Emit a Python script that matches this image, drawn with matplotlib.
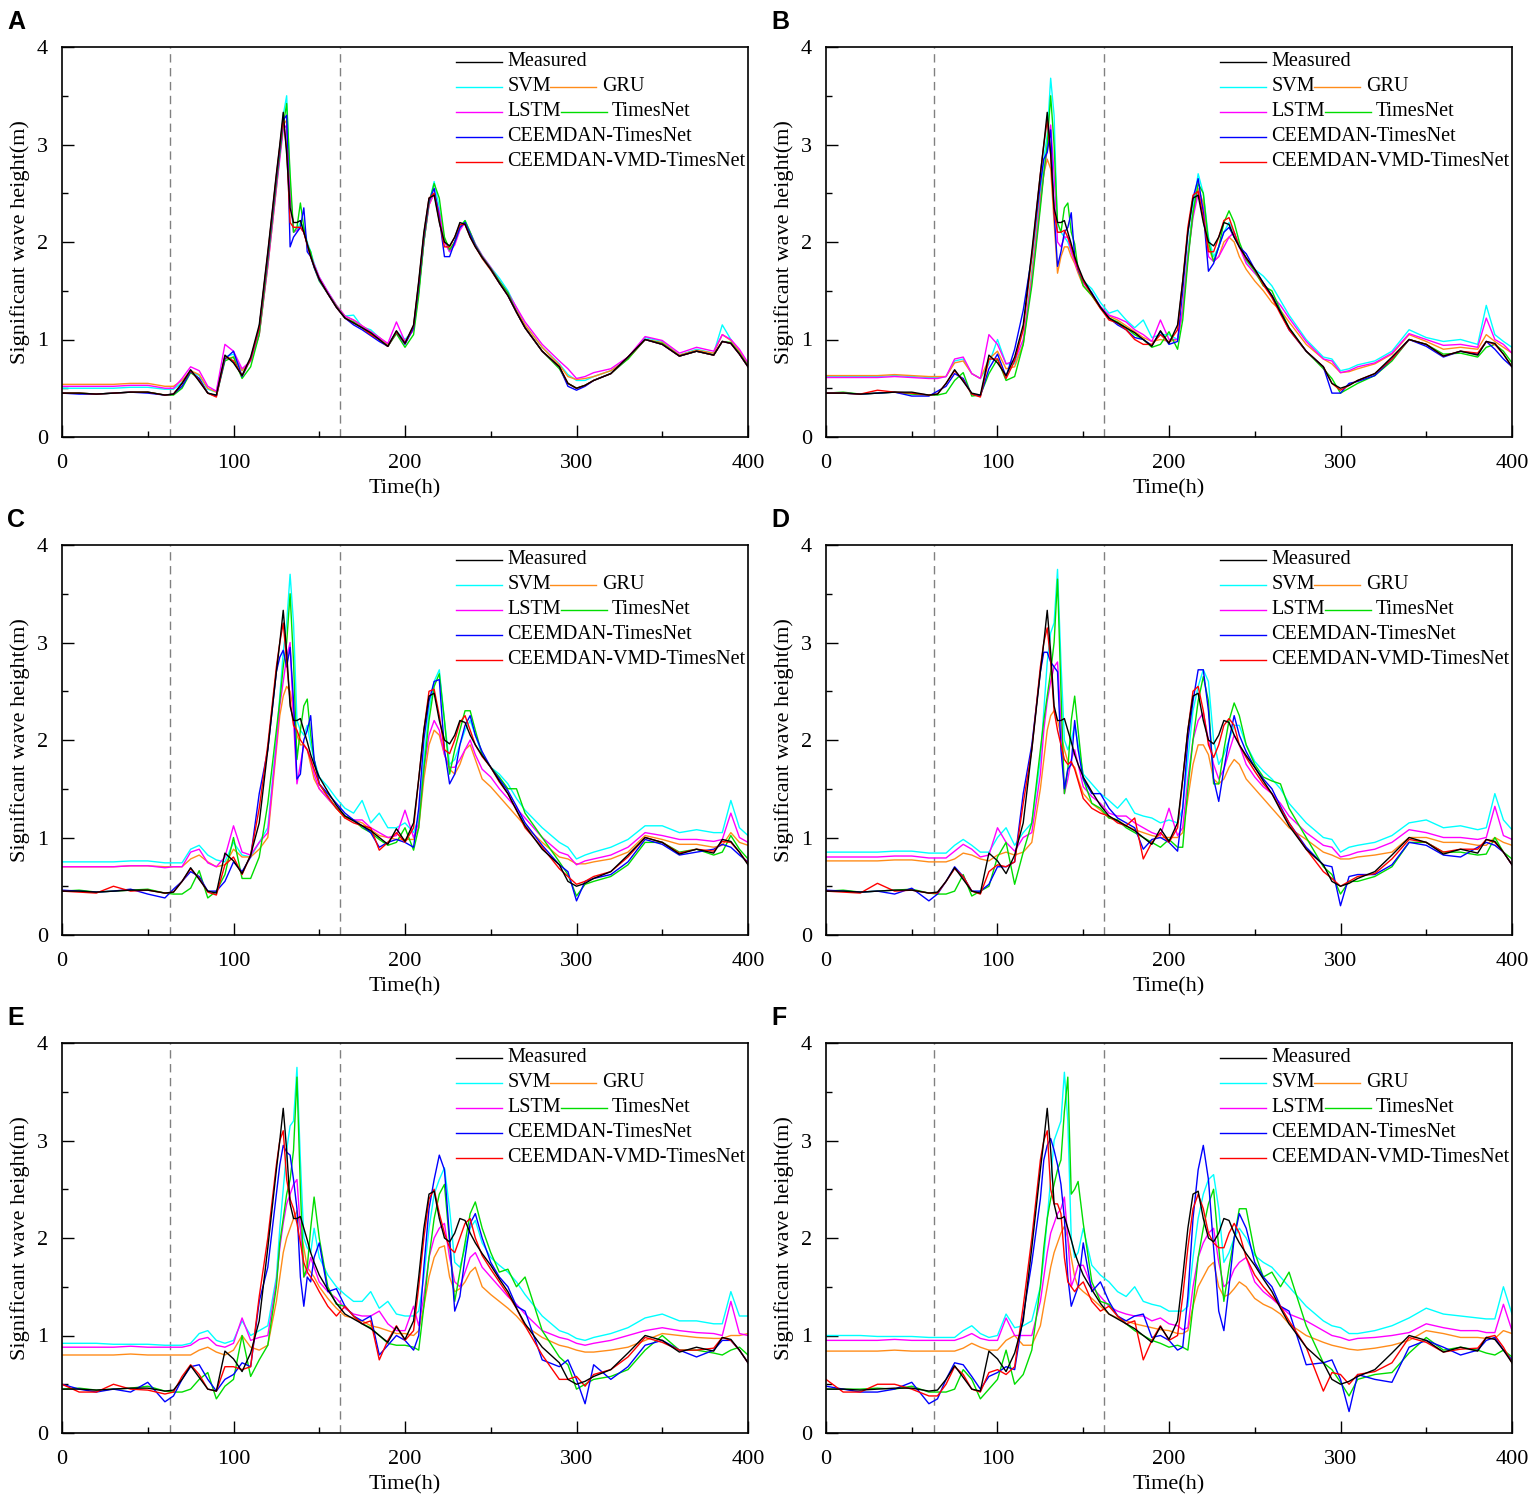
import matplotlib
matplotlib.use("Agg")
import matplotlib.pyplot as plt
from matplotlib.ticker import MultipleLocator

# sample hours (shared by every series)
hours = [0, 10, 20, 30, 40, 50, 60,
         65, 70, 75, 80, 85, 90, 95, 100, 105, 110, 115, 120, 125,
         127, 129, 131, 133, 135, 137, 139, 141, 143, 145, 147,
         150, 155, 160, 165, 170, 175, 180, 185, 190, 195, 200, 205,
         208, 211, 214, 217, 220, 223, 226, 229, 232, 235, 238, 241,
         245, 250, 255, 260, 265, 270,
         280, 290, 295, 300, 305, 310, 320, 330, 340, 350, 360, 370, 380,
         385, 390, 395, 400]

measured = [0.45, 0.45, 0.44, 0.45, 0.46, 0.46, 0.43,
            0.44, 0.55, 0.69, 0.57, 0.45, 0.43, 0.84, 0.76, 0.63, 0.82, 1.15, 1.90, 2.70,
            3.00, 3.33, 2.90, 2.35, 2.20, 2.20, 2.22, 2.10, 1.98, 1.85, 1.75,
            1.62, 1.47, 1.33, 1.22, 1.17, 1.12, 1.07, 1.00, 0.93, 1.09, 0.96, 1.15,
            1.60, 2.10, 2.45, 2.48, 2.20, 2.00, 1.96, 2.05, 2.20, 2.18, 2.05, 1.95,
            1.84, 1.72, 1.58, 1.45, 1.28, 1.12,
            0.88, 0.72, 0.55, 0.50, 0.53, 0.58, 0.65, 0.82, 1.00, 0.95, 0.83, 0.88, 0.84,
            0.98, 0.96, 0.85, 0.72]

# ---- panel A ----
svm_a = [0.50, 0.50, 0.50, 0.50, 0.51, 0.51, 0.49,
         0.49, 0.56, 0.67, 0.63, 0.49, 0.46, 0.82, 0.85, 0.68, 0.78, 1.10, 1.80, 2.60,
         2.95, 3.30, 3.50, 2.60, 2.10, 2.12, 2.20, 2.15, 2.00, 1.90, 1.78,
         1.64, 1.49, 1.35, 1.24, 1.25, 1.13, 1.10, 1.02, 0.95, 1.08, 1.00, 1.10,
         1.50, 2.00, 2.40, 2.62, 2.35, 2.02, 1.90, 2.00, 2.15, 2.22, 2.10, 1.98,
         1.86, 1.74, 1.63, 1.50, 1.32, 1.15,
         0.92, 0.75, 0.64, 0.58, 0.58, 0.62, 0.68, 0.80, 1.02, 0.98, 0.84, 0.90, 0.86,
         1.15, 1.00, 0.88, 0.75]
gru_a = [0.54, 0.54, 0.54, 0.54, 0.55, 0.55, 0.52,
         0.52, 0.58, 0.68, 0.64, 0.50, 0.46, 0.80, 0.82, 0.68, 0.78, 1.05, 1.75, 2.55,
         2.90, 3.20, 3.25, 2.50, 2.15, 2.15, 2.15, 2.10, 1.98, 1.86, 1.76,
         1.63, 1.48, 1.35, 1.24, 1.20, 1.14, 1.08, 1.02, 0.95, 1.06, 0.98, 1.10,
         1.50, 2.00, 2.38, 2.50, 2.30, 2.02, 1.92, 2.00, 2.15, 2.20, 2.08, 1.96,
         1.83, 1.71, 1.58, 1.46, 1.30, 1.15,
         0.92, 0.74, 0.62, 0.59, 0.60, 0.62, 0.68, 0.80, 1.00, 0.97, 0.84, 0.89, 0.86,
         1.05, 0.99, 0.88, 0.75]
lstm_a = [0.52, 0.52, 0.52, 0.52, 0.53, 0.53, 0.50,
          0.50, 0.60, 0.72, 0.68, 0.52, 0.47, 0.95, 0.88, 0.70, 0.78, 1.05, 1.75, 2.55,
          2.85, 3.15, 3.20, 2.50, 2.10, 2.12, 2.15, 2.10, 1.98, 1.87, 1.77,
          1.64, 1.49, 1.35, 1.24, 1.20, 1.14, 1.08, 1.02, 0.96, 1.18, 0.98, 1.10,
          1.50, 2.00, 2.38, 2.50, 2.30, 2.00, 1.90, 1.97, 2.12, 2.20, 2.10, 1.98,
          1.86, 1.74, 1.60, 1.48, 1.33, 1.18,
          0.95, 0.78, 0.70, 0.60, 0.62, 0.66, 0.70, 0.82, 1.03, 0.99, 0.86, 0.92, 0.88,
          1.05, 1.00, 0.90, 0.76]
tnet_a = [0.45, 0.45, 0.44, 0.45, 0.46, 0.46, 0.43,
          0.43, 0.50, 0.66, 0.60, 0.45, 0.42, 0.78, 0.82, 0.60, 0.72, 1.05, 1.80, 2.60,
          2.90, 3.20, 3.42, 2.70, 2.10, 2.15, 2.40, 2.15, 1.97, 1.90, 1.74,
          1.60, 1.47, 1.34, 1.22, 1.18, 1.12, 1.06, 1.00, 0.93, 1.06, 0.92, 1.05,
          1.45, 2.00, 2.40, 2.60, 2.45, 2.05, 1.92, 2.00, 2.15, 2.22, 2.10, 1.97,
          1.85, 1.73, 1.60, 1.48, 1.28, 1.12,
          0.88, 0.70, 0.55, 0.50, 0.53, 0.58, 0.65, 0.80, 1.00, 0.96, 0.83, 0.88, 0.84,
          0.98, 0.97, 0.86, 0.73]
cee_a = [0.45, 0.44, 0.44, 0.45, 0.46, 0.45, 0.43,
         0.44, 0.52, 0.67, 0.60, 0.45, 0.42, 0.80, 0.88, 0.62, 0.80, 1.12, 1.85, 2.65,
         2.95, 3.25, 3.30, 1.95, 2.05, 2.10, 2.15, 2.35, 1.90, 1.85, 1.74,
         1.61, 1.47, 1.33, 1.22, 1.15, 1.10, 1.04, 0.98, 0.93, 1.08, 0.95, 1.12,
         1.55, 2.05, 2.42, 2.55, 2.25, 1.85, 1.85, 2.00, 2.15, 2.20, 2.08, 1.96,
         1.84, 1.72, 1.58, 1.45, 1.28, 1.12,
         0.88, 0.72, 0.52, 0.48, 0.52, 0.58, 0.65, 0.82, 1.00, 0.95, 0.83, 0.88, 0.84,
         0.98, 0.96, 0.85, 0.72]
vmd_a = [0.45, 0.45, 0.44, 0.45, 0.46, 0.46, 0.43,
         0.44, 0.55, 0.68, 0.58, 0.45, 0.41, 0.83, 0.78, 0.63, 0.80, 1.12, 1.88, 2.68,
         2.98, 3.27, 2.95, 2.20, 2.15, 2.15, 2.15, 2.10, 1.97, 1.85, 1.75,
         1.62, 1.47, 1.33, 1.22, 1.17, 1.12, 1.05, 1.00, 0.93, 1.08, 0.96, 1.14,
         1.58, 2.08, 2.45, 2.50, 2.22, 1.95, 1.95, 2.05, 2.18, 2.18, 2.05, 1.95,
         1.84, 1.72, 1.58, 1.45, 1.28, 1.12,
         0.88, 0.72, 0.55, 0.50, 0.53, 0.58, 0.65, 0.82, 1.00, 0.95, 0.83, 0.88, 0.84,
         0.98, 0.96, 0.85, 0.72]

# ---- panel B ----
svm_b = [0.62, 0.62, 0.62, 0.62, 0.63, 0.62, 0.61,
         0.61, 0.62, 0.78, 0.80, 0.65, 0.60, 0.75, 1.00, 0.75, 0.75, 0.95, 1.70, 2.50,
         2.85, 3.10, 3.68, 3.30, 2.10, 2.10, 2.05, 2.00, 1.90, 1.80, 1.70,
         1.60, 1.52, 1.38, 1.27, 1.30, 1.20, 1.12, 1.20, 1.02, 1.05, 1.05, 1.00,
         1.30, 1.90, 2.35, 2.70, 2.50, 2.05, 1.85, 1.95, 2.10, 2.20, 2.10, 1.97,
         1.80, 1.72, 1.65, 1.55, 1.40, 1.25,
         1.00, 0.82, 0.80, 0.68, 0.70, 0.74, 0.78, 0.88, 1.10, 1.02, 0.98, 1.00, 0.95,
         1.35, 1.05, 0.98, 0.92]
gru_b = [0.63, 0.63, 0.63, 0.63, 0.64, 0.63, 0.62,
         0.62, 0.62, 0.76, 0.78, 0.65, 0.60, 0.80, 0.88, 0.70, 0.72, 0.95, 1.65, 2.45,
         2.70, 2.85, 2.75, 2.20, 1.68, 1.85, 1.95, 1.95, 1.85, 1.78, 1.68,
         1.55, 1.45, 1.32, 1.24, 1.20, 1.14, 1.08, 1.02, 0.98, 1.00, 0.98, 1.00,
         1.30, 1.85, 2.30, 2.55, 2.40, 1.95, 1.80, 1.85, 2.00, 2.05, 2.00, 1.85,
         1.72, 1.60, 1.50, 1.38, 1.30, 1.18,
         0.95, 0.80, 0.75, 0.66, 0.67, 0.70, 0.75, 0.85, 1.05, 0.98, 0.90, 0.92, 0.90,
         1.05, 0.98, 0.92, 0.86]
lstm_b = [0.61, 0.61, 0.61, 0.61, 0.62, 0.61, 0.60,
          0.60, 0.62, 0.80, 0.82, 0.65, 0.60, 1.05, 0.95, 0.75, 0.78, 1.00, 1.60, 2.40,
          2.70, 2.95, 3.20, 2.70, 2.00, 1.95, 2.05, 2.05, 1.90, 1.80, 1.70,
          1.58, 1.47, 1.34, 1.25, 1.22, 1.18, 1.10, 1.05, 0.98, 1.20, 1.00, 1.00,
          1.30, 1.85, 2.25, 2.50, 2.35, 1.85, 1.80, 1.85, 1.95, 2.05, 2.10, 1.95,
          1.78, 1.68, 1.58, 1.45, 1.35, 1.22,
          0.98, 0.80, 0.78, 0.66, 0.68, 0.72, 0.76, 0.86, 1.06, 1.00, 0.94, 0.95, 0.92,
          1.22, 1.00, 0.95, 0.86]
tnet_b = [0.45, 0.46, 0.44, 0.45, 0.46, 0.44, 0.43,
          0.43, 0.45, 0.58, 0.66, 0.42, 0.43, 0.65, 0.80, 0.58, 0.62, 0.95, 1.55, 2.35,
          2.70, 3.00, 3.50, 3.00, 2.20, 2.10, 2.35, 2.40, 2.10, 1.98, 1.72,
          1.55, 1.45, 1.33, 1.22, 1.18, 1.12, 1.05, 1.00, 0.92, 0.95, 1.08, 0.90,
          1.20, 1.80, 2.30, 2.60, 2.50, 2.00, 1.80, 1.95, 2.20, 2.32, 2.20, 2.00,
          1.82, 1.70, 1.55, 1.50, 1.30, 1.12,
          0.88, 0.70, 0.60, 0.45, 0.50, 0.55, 0.63, 0.78, 1.00, 0.95, 0.85, 0.86, 0.82,
          0.92, 0.95, 0.88, 0.76]
cee_b = [0.45, 0.45, 0.44, 0.45, 0.46, 0.42, 0.42,
         0.47, 0.52, 0.65, 0.60, 0.44, 0.42, 0.70, 0.85, 0.62, 0.90, 1.30, 1.85, 2.60,
         2.85, 2.92, 3.15, 2.30, 1.75, 1.90, 2.10, 2.15, 2.30, 1.85, 1.72,
         1.60, 1.48, 1.33, 1.22, 1.15, 1.10, 1.02, 1.00, 0.94, 1.08, 0.95, 0.98,
         1.50, 2.10, 2.45, 2.65, 2.30, 1.70, 1.78, 1.95, 2.10, 2.15, 2.05, 1.95,
         1.88, 1.72, 1.58, 1.45, 1.28, 1.10,
         0.88, 0.72, 0.45, 0.45, 0.55, 0.57, 0.63, 0.80, 1.00, 0.93, 0.82, 0.88, 0.85,
         0.98, 0.90, 0.80, 0.72]
vmd_b = [0.45, 0.45, 0.44, 0.48, 0.46, 0.45, 0.43,
         0.44, 0.55, 0.68, 0.58, 0.44, 0.41, 0.80, 0.80, 0.60, 0.78, 1.10, 1.85, 2.70,
         3.00, 3.25, 2.90, 2.30, 2.10, 2.10, 2.12, 2.05, 1.95, 1.83, 1.73,
         1.60, 1.46, 1.32, 1.20, 1.17, 1.10, 1.00, 0.95, 0.95, 1.05, 0.97, 1.10,
         1.60, 2.15, 2.48, 2.52, 2.25, 1.90, 1.90, 2.05, 2.22, 2.25, 2.10, 1.95,
         1.83, 1.72, 1.56, 1.43, 1.26, 1.10,
         0.88, 0.72, 0.55, 0.48, 0.53, 0.58, 0.65, 0.80, 1.00, 0.95, 0.83, 0.88, 0.86,
         0.98, 0.95, 0.85, 0.72]

# ---- panel C ----
svm_c = [0.75, 0.75, 0.75, 0.75, 0.76, 0.76, 0.74,
         0.74, 0.74, 0.88, 0.92, 0.82, 0.77, 0.75, 0.95, 0.82, 0.80, 0.95, 1.10, 2.00,
         2.45, 2.90, 3.20, 3.70, 3.20, 2.20, 2.10, 2.05, 2.15, 1.95, 1.80,
         1.62, 1.52, 1.40, 1.30, 1.25, 1.38, 1.15, 1.25, 1.10, 1.10, 1.15, 1.05,
         1.20, 1.80, 2.30, 2.60, 2.72, 2.20, 1.75, 1.80, 1.95, 2.10, 2.20, 2.05,
         1.85, 1.72, 1.65, 1.55, 1.40, 1.28,
         1.10, 0.95, 0.90, 0.78, 0.82, 0.85, 0.90, 0.98, 1.12, 1.12, 1.05, 1.08, 1.05,
         1.05, 1.38, 1.10, 1.02]
gru_c = [0.70, 0.70, 0.70, 0.70, 0.71, 0.71, 0.70,
         0.70, 0.70, 0.78, 0.82, 0.75, 0.70, 0.72, 0.88, 0.80, 0.80, 0.88, 1.00, 1.90,
         2.25, 2.45, 2.55, 2.50, 2.30, 2.05, 1.95, 1.95, 1.90, 1.75, 1.60,
         1.50, 1.40, 1.30, 1.20, 1.18, 1.15, 1.08, 1.02, 1.00, 0.98, 0.98, 0.98,
         1.10, 1.60, 1.95, 2.10, 2.05, 1.85, 1.70, 1.65, 1.75, 1.90, 1.95, 1.80,
         1.60, 1.52, 1.42, 1.32, 1.22, 1.12,
         0.95, 0.80, 0.78, 0.73, 0.73, 0.75, 0.78, 0.85, 1.02, 0.98, 0.93, 0.93, 0.90,
         0.92, 1.05, 0.95, 0.92]
lstm_c = [0.70, 0.70, 0.70, 0.70, 0.71, 0.71, 0.69,
          0.70, 0.70, 0.85, 0.88, 0.74, 0.70, 0.80, 1.12, 0.85, 0.82, 0.95, 1.05, 1.95,
          2.35, 2.60, 2.85, 3.00, 2.20, 1.55, 1.75, 1.95, 1.90, 1.80, 1.65,
          1.50, 1.40, 1.30, 1.22, 1.18, 1.18, 1.10, 1.05, 1.00, 1.02, 1.28, 1.00,
          1.15, 1.70, 2.05, 2.20, 2.10, 1.85, 1.72, 1.72, 1.80, 1.90, 2.00, 1.85,
          1.70, 1.62, 1.50, 1.40, 1.30, 1.20,
          1.00, 0.85, 0.82, 0.72, 0.76, 0.78, 0.82, 0.90, 1.05, 1.02, 0.98, 0.98, 0.96,
          0.98, 1.25, 1.00, 0.95]
tnet_c = [0.45, 0.46, 0.44, 0.45, 0.46, 0.47, 0.43,
          0.42, 0.42, 0.48, 0.66, 0.38, 0.45, 0.62, 1.00, 0.58, 0.58, 0.80, 1.35, 2.10,
          2.40, 2.75, 3.00, 3.50, 2.80, 1.80, 2.10, 2.35, 2.42, 2.05, 1.80,
          1.55, 1.42, 1.30, 1.22, 1.18, 1.10, 1.05, 0.98, 0.92, 0.95, 1.10, 0.87,
          1.10, 1.70, 2.20, 2.55, 2.68, 2.20, 1.65, 1.90, 2.10, 2.30, 2.30, 2.10,
          1.85, 1.72, 1.62, 1.50, 1.50, 1.25,
          1.00, 0.75, 0.62, 0.40, 0.52, 0.55, 0.60, 0.72, 0.95, 0.95, 0.85, 0.88, 0.82,
          0.85, 1.02, 0.88, 0.78]
cee_c = [0.46, 0.45, 0.44, 0.45, 0.47, 0.42, 0.38,
         0.47, 0.55, 0.65, 0.60, 0.45, 0.45, 0.55, 0.75, 0.65, 0.80, 1.45, 1.90, 2.70,
         2.85, 2.92, 2.75, 2.95, 2.40, 1.60, 1.65, 2.00, 2.10, 2.25, 1.80,
         1.55, 1.45, 1.35, 1.25, 1.18, 1.12, 1.05, 0.90, 0.95, 0.98, 0.95, 0.90,
         1.30, 2.00, 2.40, 2.60, 2.62, 1.90, 1.55, 1.65, 1.95, 2.15, 2.25, 2.05,
         1.88, 1.72, 1.60, 1.48, 1.32, 1.15,
         0.92, 0.72, 0.65, 0.35, 0.55, 0.58, 0.62, 0.75, 0.98, 0.93, 0.82, 0.85, 0.88,
         0.93, 0.90, 0.82, 0.75]
vmd_c = [0.45, 0.44, 0.43, 0.50, 0.45, 0.46, 0.43,
         0.44, 0.55, 0.68, 0.58, 0.44, 0.41, 0.72, 0.80, 0.62, 0.82, 1.30, 1.95, 2.75,
         3.00, 3.20, 2.80, 2.40, 2.15, 2.10, 2.00, 1.95, 1.90, 1.80, 1.70,
         1.55, 1.42, 1.30, 1.20, 1.15, 1.12, 1.10, 0.87, 0.95, 1.05, 0.95, 1.10,
         1.60, 2.10, 2.50, 2.52, 2.25, 1.90, 1.86, 2.00, 2.18, 2.25, 2.10, 1.95,
         1.83, 1.72, 1.57, 1.45, 1.28, 1.10,
         0.90, 0.68, 0.60, 0.52, 0.55, 0.60, 0.65, 0.80, 1.00, 0.95, 0.84, 0.88, 0.86,
         0.96, 0.95, 0.85, 0.73]

# ---- panel D ----
svm_d = [0.85, 0.85, 0.85, 0.85, 0.86, 0.86, 0.84,
         0.84, 0.84, 0.92, 0.98, 0.92, 0.85, 0.85, 1.00, 1.10, 0.92, 1.05, 1.15, 1.80,
         2.30, 2.80, 3.10, 3.20, 3.75, 2.80, 2.00, 1.90, 2.00, 2.15, 1.95,
         1.65, 1.55, 1.45, 1.38, 1.30, 1.40, 1.25, 1.22, 1.20, 1.15, 1.18, 1.15,
         1.30, 1.80, 2.30, 2.55, 2.72, 2.60, 2.00, 1.75, 1.85, 2.00, 2.15, 2.15,
         1.95, 1.78, 1.68, 1.60, 1.50, 1.35,
         1.15, 1.00, 0.98, 0.85, 0.90, 0.92, 0.95, 1.02, 1.15, 1.18, 1.10, 1.12, 1.08,
         1.10, 1.45, 1.18, 1.08]
gru_d = [0.76, 0.76, 0.76, 0.76, 0.77, 0.77, 0.75,
         0.75, 0.75, 0.78, 0.84, 0.82, 0.78, 0.76, 0.82, 0.85, 0.82, 0.85, 0.95, 1.50,
         1.80, 2.10, 2.25, 2.30, 2.20, 2.05, 1.90, 1.78, 1.75, 1.72, 1.60,
         1.45, 1.35, 1.28, 1.20, 1.18, 1.12, 1.08, 1.05, 1.02, 1.00, 1.00, 1.00,
         1.05, 1.40, 1.75, 1.95, 1.95, 1.85, 1.60, 1.55, 1.60, 1.72, 1.80, 1.75,
         1.60, 1.50, 1.40, 1.30, 1.20, 1.10,
         0.98, 0.85, 0.82, 0.78, 0.78, 0.80, 0.82, 0.85, 1.00, 1.00, 0.95, 0.95, 0.92,
         0.92, 1.00, 0.95, 0.92]
lstm_d = [0.80, 0.80, 0.80, 0.80, 0.81, 0.81, 0.79,
          0.79, 0.79, 0.86, 0.93, 0.88, 0.80, 0.82, 1.10, 0.95, 0.86, 1.00, 1.05, 1.65,
          2.10, 2.40, 2.60, 2.75, 2.80, 2.20, 1.45, 1.60, 1.80, 1.90, 1.75,
          1.52, 1.42, 1.35, 1.25, 1.22, 1.22, 1.15, 1.10, 1.05, 1.02, 1.30, 1.02,
          1.10, 1.60, 2.00, 2.20, 2.28, 2.00, 1.75, 1.60, 1.70, 1.88, 2.05, 1.95,
          1.75, 1.62, 1.52, 1.45, 1.35, 1.22,
          1.05, 0.92, 0.90, 0.80, 0.82, 0.85, 0.88, 0.95, 1.08, 1.05, 1.00, 1.00, 0.98,
          1.00, 1.32, 1.02, 0.98]
tnet_d = [0.45, 0.46, 0.44, 0.45, 0.46, 0.47, 0.43,
          0.42, 0.42, 0.45, 0.62, 0.40, 0.45, 0.50, 0.80, 0.95, 0.52, 0.85, 1.15, 1.90,
          2.20, 2.45, 2.70, 3.00, 3.65, 2.50, 1.45, 1.70, 2.20, 2.45, 2.10,
          1.60, 1.35, 1.30, 1.20, 1.18, 1.10, 1.05, 1.00, 0.95, 0.90, 0.98, 0.90,
          0.90, 1.50, 2.00, 2.40, 2.65, 2.40, 1.55, 1.55, 1.90, 2.20, 2.38, 2.25,
          1.95, 1.75, 1.62, 1.58, 1.55, 1.30,
          1.00, 0.70, 0.62, 0.42, 0.55, 0.55, 0.60, 0.70, 0.95, 0.95, 0.85, 0.85, 0.82,
          0.83, 1.00, 0.85, 0.78]
cee_d = [0.46, 0.45, 0.44, 0.45, 0.42, 0.48, 0.35,
         0.42, 0.55, 0.70, 0.60, 0.45, 0.45, 0.52, 0.70, 0.70, 0.75, 1.45, 1.95, 2.70,
         2.90, 2.90, 2.80, 2.75, 2.70, 1.90, 1.50, 1.70, 1.75, 2.20, 1.90,
         1.60, 1.45, 1.45, 1.30, 1.20, 1.15, 1.10, 0.88, 0.98, 1.00, 0.95, 0.86,
         1.30, 2.00, 2.40, 2.72, 2.72, 2.30, 1.60, 1.37, 1.70, 2.00, 2.25, 2.05,
         1.88, 1.72, 1.60, 1.50, 1.32, 1.15,
         0.90, 0.72, 0.70, 0.30, 0.60, 0.62, 0.62, 0.72, 0.95, 0.92, 0.82, 0.80, 0.90,
         0.95, 0.92, 0.85, 0.72]
vmd_d = [0.45, 0.44, 0.43, 0.53, 0.45, 0.46, 0.43,
         0.43, 0.55, 0.68, 0.60, 0.45, 0.42, 0.65, 0.72, 0.70, 0.75, 1.35, 1.90, 2.75,
         3.00, 3.15, 2.80, 2.30, 2.10, 1.95, 1.80, 1.75, 1.78, 1.70, 1.58,
         1.40, 1.30, 1.25, 1.22, 1.15, 1.12, 1.20, 0.78, 0.95, 1.05, 0.95, 1.10,
         1.60, 2.10, 2.50, 2.55, 2.30, 1.95, 1.82, 1.95, 2.15, 2.22, 2.15, 1.95,
         1.82, 1.68, 1.55, 1.45, 1.30, 1.15,
         0.88, 0.65, 0.58, 0.50, 0.55, 0.60, 0.63, 0.78, 0.98, 0.95, 0.85, 0.88, 0.88,
         0.98, 0.95, 0.85, 0.72]

# ---- panel E ----
svm_e = [0.92, 0.92, 0.92, 0.91, 0.91, 0.91, 0.90,
         0.90, 0.90, 0.92, 1.02, 1.05, 0.95, 0.92, 0.95, 1.15, 1.00, 1.05, 1.10, 1.60,
         2.10, 2.50, 2.90, 3.15, 3.20, 3.75, 2.80, 2.00, 1.90, 1.85, 2.10,
         1.80, 1.62, 1.50, 1.42, 1.35, 1.35, 1.45, 1.28, 1.35, 1.22, 1.20, 1.20,
         1.25, 1.60, 2.10, 2.45, 2.60, 2.72, 2.30, 1.75, 1.70, 1.90, 2.10, 2.18,
         1.95, 1.80, 1.72, 1.65, 1.55, 1.42,
         1.20, 1.05, 1.02, 0.97, 0.95, 0.98, 1.02, 1.08, 1.18, 1.22, 1.15, 1.15, 1.12,
         1.12, 1.45, 1.20, 1.20]
gru_e = [0.80, 0.80, 0.80, 0.80, 0.81, 0.80, 0.80,
         0.80, 0.80, 0.80, 0.85, 0.88, 0.83, 0.80, 0.85, 1.00, 0.88, 0.85, 0.90, 1.35,
         1.60, 1.85, 2.00, 2.10, 2.20, 2.28, 2.10, 1.90, 1.70, 1.65, 1.60,
         1.50, 1.38, 1.28, 1.20, 1.18, 1.15, 1.10, 1.08, 1.05, 1.02, 1.02, 1.00,
         1.05, 1.30, 1.60, 1.80, 1.90, 1.92, 1.60, 1.45, 1.48, 1.55, 1.65, 1.70,
         1.50, 1.42, 1.35, 1.28, 1.20, 1.10,
         0.98, 0.90, 0.88, 0.85, 0.83, 0.83, 0.85, 0.88, 0.95, 1.02, 1.00, 0.98, 0.97,
         0.97, 1.00, 1.00, 1.02]
lstm_e = [0.88, 0.88, 0.88, 0.88, 0.89, 0.88, 0.88,
          0.88, 0.88, 0.90, 0.96, 0.98, 0.90, 0.88, 0.92, 1.18, 0.95, 0.98, 1.00, 1.55,
          1.90, 2.15, 2.35, 2.45, 2.55, 2.60, 2.10, 1.60, 1.65, 1.80, 1.70,
          1.55, 1.45, 1.38, 1.28, 1.22, 1.20, 1.20, 1.25, 1.12, 1.05, 1.05, 1.30,
          1.10, 1.40, 1.80, 2.00, 2.10, 2.15, 1.80, 1.55, 1.50, 1.65, 1.80, 1.85,
          1.70, 1.60, 1.50, 1.40, 1.32, 1.22,
          1.05, 0.98, 0.96, 0.92, 0.90, 0.92, 0.95, 1.00, 1.05, 1.08, 1.05, 1.03, 1.02,
          1.00, 1.35, 1.02, 1.00]
tnet_e = [0.45, 0.46, 0.44, 0.45, 0.46, 0.48, 0.43,
          0.42, 0.42, 0.45, 0.55, 0.62, 0.35, 0.48, 0.55, 1.00, 0.58, 0.75, 0.90, 1.50,
          1.95, 2.20, 2.45, 2.60, 2.90, 3.65, 2.50, 1.60, 1.70, 2.10, 2.42,
          2.00, 1.50, 1.32, 1.30, 1.20, 1.12, 1.08, 1.00, 0.92, 0.90, 0.90, 0.88,
          0.85, 1.30, 1.80, 2.20, 2.45, 2.55, 1.95, 1.35, 1.65, 1.95, 2.25, 2.37,
          2.10, 1.85, 1.65, 1.68, 1.50, 1.60,
          1.05, 0.78, 0.70, 0.45, 0.50, 0.55, 0.58, 0.65, 0.85, 1.00, 0.85, 0.85, 0.82,
          0.80, 0.85, 0.88, 0.80]
cee_e = [0.50, 0.45, 0.42, 0.45, 0.42, 0.52, 0.32,
         0.38, 0.55, 0.68, 0.70, 0.55, 0.43, 0.55, 0.60, 0.72, 0.68, 1.35, 1.70, 2.45,
         2.75, 2.95, 2.88, 2.85, 2.60, 2.30, 1.60, 1.30, 1.60, 1.55, 1.80,
         1.95, 1.45, 1.48, 1.30, 1.20, 1.15, 1.20, 0.80, 0.90, 1.00, 0.95, 0.85,
         1.00, 1.70, 2.30, 2.60, 2.85, 2.70, 2.00, 1.25, 1.40, 1.80, 2.15, 2.25,
         2.00, 1.75, 1.60, 1.50, 1.30, 1.25,
         0.75, 0.68, 0.75, 0.55, 0.30, 0.70, 0.55, 0.68, 0.90, 0.95, 0.85, 0.78, 0.85,
         0.95, 0.95, 0.85, 0.72]
vmd_e = [0.50, 0.42, 0.42, 0.50, 0.45, 0.44, 0.40,
         0.42, 0.58, 0.70, 0.60, 0.45, 0.43, 0.68, 0.68, 0.65, 0.68, 1.40, 2.00, 2.75,
         3.00, 3.10, 2.60, 2.40, 2.30, 2.15, 1.95, 1.75, 1.65, 1.60, 1.55,
         1.45, 1.30, 1.20, 1.30, 1.20, 1.12, 1.15, 0.75, 0.95, 1.10, 0.95, 1.05,
         1.50, 2.00, 2.40, 2.50, 2.25, 2.05, 1.90, 1.85, 2.00, 2.15, 2.20, 2.00,
         1.82, 1.68, 1.55, 1.42, 1.28, 1.10,
         0.80, 0.55, 0.55, 0.58, 0.48, 0.60, 0.65, 0.78, 0.98, 0.93, 0.85, 0.85, 0.87,
         0.98, 0.95, 0.85, 0.72]

# ---- panel F ----
svm_f = [1.00, 1.00, 1.00, 0.99, 0.99, 0.99, 0.98,
         0.98, 0.98, 0.98, 1.05, 1.10, 1.02, 0.98, 1.00, 1.22, 1.08, 1.10, 1.15, 1.50,
         1.80, 2.20, 2.60, 3.00, 3.10, 3.20, 3.70, 3.20, 2.00, 1.80, 1.85,
         2.10, 1.72, 1.62, 1.55, 1.45, 1.40, 1.50, 1.35, 1.32, 1.30, 1.25, 1.25,
         1.25, 1.30, 1.80, 2.20, 2.45, 2.60, 2.65, 2.30, 1.75, 1.85, 2.00, 2.10,
         2.00, 1.82, 1.75, 1.70, 1.60, 1.50,
         1.30, 1.15, 1.10, 1.08, 1.02, 1.02, 1.05, 1.10, 1.18, 1.28, 1.22, 1.20, 1.18,
         1.17, 1.17, 1.50, 1.22]
gru_f = [0.84, 0.84, 0.84, 0.84, 0.85, 0.84, 0.84,
         0.84, 0.84, 0.84, 0.87, 0.92, 0.88, 0.85, 0.85, 0.95, 1.00, 0.90, 0.90, 1.10,
         1.30, 1.50, 1.70, 1.85, 1.95, 2.05, 2.12, 2.00, 1.80, 1.60, 1.50,
         1.45, 1.38, 1.30, 1.22, 1.18, 1.15, 1.12, 1.10, 1.08, 1.06, 1.05, 1.02,
         1.02, 1.05, 1.30, 1.50, 1.60, 1.70, 1.75, 1.50, 1.40, 1.42, 1.48, 1.55,
         1.50, 1.38, 1.32, 1.28, 1.22, 1.12,
         1.00, 0.93, 0.90, 0.88, 0.86, 0.85, 0.87, 0.90, 0.95, 1.05, 1.02, 0.98, 0.98,
         0.97, 0.97, 1.05, 1.02]
lstm_f = [0.95, 0.95, 0.95, 0.95, 0.96, 0.95, 0.95,
          0.95, 0.95, 0.95, 0.98, 1.02, 0.97, 0.95, 0.95, 1.18, 1.00, 1.00, 1.00, 1.35,
          1.60, 1.85, 2.05, 2.15, 2.25, 2.30, 2.42, 2.00, 1.50, 1.60, 1.72,
          1.72, 1.50, 1.40, 1.30, 1.25, 1.22, 1.20, 1.20, 1.15, 1.18, 1.12, 1.10,
          1.06, 1.08, 1.50, 1.80, 1.95, 2.05, 2.10, 1.75, 1.50, 1.55, 1.68, 1.75,
          1.80, 1.55, 1.45, 1.38, 1.30, 1.22,
          1.15, 1.05, 1.00, 0.98, 0.95, 0.97, 0.98, 1.00, 1.03, 1.12, 1.08, 1.05, 1.05,
          1.03, 1.03, 1.32, 1.05]
tnet_f = [0.45, 0.45, 0.45, 0.46, 0.45, 0.48, 0.42,
          0.42, 0.42, 0.45, 0.65, 0.55, 0.35, 0.45, 0.55, 0.85, 0.50, 0.60, 0.85, 1.50,
          1.90, 2.20, 2.40, 2.55, 2.70, 2.80, 3.30, 3.65, 2.45, 2.50, 2.58,
          2.15, 1.55, 1.35, 1.32, 1.20, 1.12, 1.05, 1.00, 0.95, 0.92, 0.88, 0.90,
          0.88, 0.85, 1.30, 1.80, 2.10, 2.35, 2.50, 1.90, 1.35, 1.70, 2.00, 2.30,
          2.30, 1.85, 1.60, 1.65, 1.50, 1.65,
          1.10, 0.72, 0.65, 0.52, 0.38, 0.55, 0.60, 0.62, 0.82, 0.98, 0.85, 0.88, 0.85,
          0.82, 0.80, 0.85, 0.78]
cee_f = [0.48, 0.45, 0.42, 0.42, 0.45, 0.52, 0.30,
         0.35, 0.55, 0.72, 0.70, 0.58, 0.45, 0.58, 0.62, 0.68, 0.65, 1.20, 1.75, 2.40,
         2.80, 2.95, 3.02, 2.90, 2.75, 2.55, 2.20, 1.60, 1.30, 1.40, 1.50,
         1.95, 1.45, 1.55, 1.35, 1.20, 1.15, 1.20, 1.22, 0.98, 1.00, 0.95, 0.85,
         0.88, 1.40, 2.20, 2.70, 2.95, 2.60, 1.90, 1.25, 1.05, 1.50, 2.00, 2.25,
         2.10, 1.75, 1.60, 1.50, 1.30, 1.25,
         0.70, 0.72, 0.75, 0.55, 0.22, 0.60, 0.55, 0.52, 0.88, 0.95, 0.88, 0.80, 0.85,
         0.95, 0.98, 0.85, 0.75]
vmd_f = [0.55, 0.42, 0.42, 0.50, 0.50, 0.45, 0.38,
         0.38, 0.50, 0.68, 0.60, 0.45, 0.42, 0.62, 0.65, 0.60, 0.68, 1.30, 2.00, 2.80,
         3.00, 3.10, 2.50, 2.35, 2.35, 2.25, 1.80, 1.55, 1.50, 1.45, 1.50,
         1.55, 1.35, 1.25, 1.30, 1.20, 1.12, 1.15, 0.75, 0.95, 1.10, 0.95, 1.00,
         1.40, 1.90, 2.30, 2.45, 2.30, 2.05, 1.95, 1.90, 1.90, 2.05, 2.15, 2.05,
         1.80, 1.62, 1.50, 1.40, 1.30, 1.15,
         0.88, 0.43, 0.62, 0.60, 0.50, 0.60, 0.63, 0.72, 0.98, 0.93, 0.83, 0.86, 0.87,
         0.98, 1.00, 0.88, 0.72]

model_names = ["SVM", "GRU", "LSTM", "TimesNet", "CEEMDAN-TimesNet", "CEEMDAN-VMD-TimesNet"]
model_colors = ["#00FFFF", "#FF8C1A", "#FF00FF", "#00DD00", "#0000FF", "#FF0000"]
split_hours = [63, 162]

panels = [
    ("A", [svm_a, gru_a, lstm_a, tnet_a, cee_a, vmd_a]),
    ("B", [svm_b, gru_b, lstm_b, tnet_b, cee_b, vmd_b]),
    ("C", [svm_c, gru_c, lstm_c, tnet_c, cee_c, vmd_c]),
    ("D", [svm_d, gru_d, lstm_d, tnet_d, cee_d, vmd_d]),
    ("E", [svm_e, gru_e, lstm_e, tnet_e, cee_e, vmd_e]),
    ("F", [svm_f, gru_f, lstm_f, tnet_f, cee_f, vmd_f]),
]

for letter, series in panels:
    for name, s in zip(model_names, series):
        if len(s) != len(hours):
            raise ValueError(f"{letter} {name}: {len(s)} values")

plt.rcParams['font.family'] = ['Liberation Serif', 'DejaVu Serif']

W, H = 1535, 1498
fig = plt.figure(figsize=(W / 100, H / 100), dpi=100)

col_left = [62, 826]
row_top = [47, 545, 1043]
ax_w, ax_h = 686, 390


def draw_legend(ax):
    y_rows = [0.962, 0.898, 0.834, 0.770, 0.706]
    kw = dict(transform=ax.transAxes, lw=1.0, clip_on=False)
    tkw = dict(transform=ax.transAxes, fontsize=14.5, va='center', ha='left')
    # first column entries
    first = [("Measured", "black", y_rows[0]),
             ("SVM", model_colors[0], y_rows[1]),
             ("LSTM", model_colors[2], y_rows[2]),
             ("CEEMDAN-TimesNet", model_colors[4], y_rows[3]),
             ("CEEMDAN-VMD-TimesNet", model_colors[5], y_rows[4])]
    for label, c, y in first:
        ax.plot([0.574, 0.641], [y, y], color=c, **kw)
        ax.text(0.649, y, label, **tkw)
    # second column entries
    ax.plot([0.711, 0.778], [y_rows[1]] * 2, color=model_colors[1], **kw)
    ax.text(0.787, y_rows[1], "GRU", **tkw)
    ax.plot([0.727, 0.794], [y_rows[2]] * 2, color=model_colors[3], **kw)
    ax.text(0.802, y_rows[2], "TimesNet", **tkw)


for i, (letter, series) in enumerate(panels):
    r, c = divmod(i, 2)
    x0 = col_left[c]
    y0 = row_top[r]
    ax = fig.add_axes([x0 / W, 1 - (y0 + ax_h) / H, ax_w / W, ax_h / H])

    for xv in split_hours:
        ax.axvline(xv, color='#808080', lw=1.0, ls=(0, (6, 4)))

    for s, col in zip(series, model_colors):
        ax.plot(hours, s, color=col, lw=1.0)
    ax.plot(hours, measured, color='black', lw=1.0)

    ax.set_xlim(0, 400)
    ax.set_ylim(0, 4)
    ax.xaxis.set_major_locator(MultipleLocator(100))
    ax.xaxis.set_minor_locator(MultipleLocator(50))
    ax.yaxis.set_major_locator(MultipleLocator(1))
    ax.yaxis.set_minor_locator(MultipleLocator(0.5))
    ax.tick_params(which='both', direction='in', top=False, right=False)
    ax.tick_params(which='major', length=8.5, width=1.0, labelsize=16)
    ax.tick_params(which='minor', length=4, width=1.0)
    ax.tick_params(axis='x', which='major', pad=12)
    ax.tick_params(axis='y', which='major', pad=10)
    for sp in ax.spines.values():
        sp.set_linewidth(1.2)

    ax.set_xlabel("Time(h)", fontsize=16, labelpad=5)
    ax.set_ylabel("Significant wave height(m)", fontsize=16, labelpad=5)

    draw_legend(ax)

    fig.text((x0 - 55) / W, 1 - (y0 - 37) / H, letter, fontsize=18,
             fontweight='bold', family='Liberation Sans', ha='left', va='top')

fig.savefig("out.png", dpi=100)
